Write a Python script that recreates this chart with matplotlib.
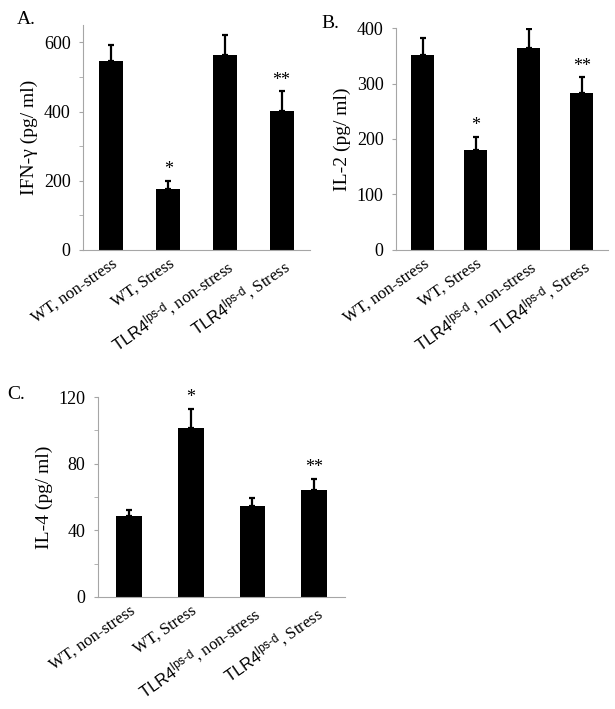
import matplotlib
matplotlib.use('Agg')
import matplotlib.pyplot as plt
import matplotlib.transforms as mtransforms
import numpy as np

plt.rcParams['font.family'] = ['Liberation Serif', 'DejaVu Serif']
plt.rcParams['mathtext.fontset'] = 'custom'
plt.rcParams['mathtext.rm'] = 'Liberation Sans'
plt.rcParams['mathtext.it'] = 'Liberation Sans'
plt.rcParams['mathtext.sf'] = 'Liberation Sans'

# Data
groups = ['WT, non-stress', 'WT, Stress',
          r'$\mathrm{TLR4}^{\mathrm{lps\text{-}d}}$, non-stress',
          r'$\mathrm{TLR4}^{\mathrm{lps\text{-}d}}$, Stress']

ifn_mean = [545, 177, 562, 403]
ifn_err = [46, 23, 58, 55]

il2_mean = [351, 180, 364, 282]
il2_err = [31, 24, 34, 29]

il4_mean = [48.7, 101.6, 54.7, 64.4]
il4_err = [3.6, 11.5, 5.0, 6.6]

signif = ['', '*', '', '**']

fig = plt.figure(figsize=(6.15, 7.09), dpi=100)

AXCOL = '#a6a6a6'


def draw_panel(rect, means, errs, ylabel, ylim, major, minor, letter, letter_xy, width):
    ax = fig.add_axes(rect)
    x = np.arange(len(means))
    ax.bar(x, means, width=width, color='black', zorder=2)
    ax.errorbar(x, means, yerr=[np.zeros(len(errs)), errs], fmt='none',
                ecolor='black', elinewidth=1.6, capsize=2.5, capthick=1.6, zorder=3)
    for xi, m, e, s in zip(x, means, errs, signif):
        if s:
            ax.annotate(s, (xi, m + e), xytext=(0, 8), textcoords='offset points',
                        ha='center', va='center', fontsize=13)
    ax.set_xlim(-0.5, len(means) - 0.5)
    ax.set_ylim(*ylim)
    ax.set_yticks(major)
    ax.set_yticks(minor, minor=True)
    ax.set_xticks(x)
    ax.set_xticklabels(groups, rotation=35, ha='right', va='top',
                       rotation_mode='anchor', fontsize=12)
    offset = mtransforms.ScaledTranslation(0.1, 0.0, fig.dpi_scale_trans)
    for lab in ax.get_xticklabels():
        lab.set_transform(lab.get_transform() + offset)
    ax.tick_params(axis='x', length=0, pad=4)
    ax.tick_params(axis='y', which='both', direction='out', length=3,
                   color=AXCOL, labelsize=13, pad=6)
    for side in ['top', 'right']:
        ax.spines[side].set_visible(False)
    for side in ['left', 'bottom']:
        ax.spines[side].set_color(AXCOL)
        ax.spines[side].set_linewidth(0.8)
    ax.set_ylabel(ylabel, fontsize=14)
    fig.text(letter_xy[0], letter_xy[1], letter, fontsize=14, ha='left', va='center')
    return ax


axA = draw_panel([0.135, 0.6474, 0.369, 0.3173], ifn_mean, ifn_err, 'IFN-γ (pg/ ml)',
                 (0, 650), [0, 200, 400, 600], [100, 300, 500], 'A.', (0.028, 0.972), 0.42)
axB = draw_panel([0.644, 0.6474, 0.345, 0.3131], il2_mean, il2_err, 'IL-2 (pg/ ml)',
                 (0, 400), [0, 100, 200, 300, 400], [], 'B.', (0.523, 0.967), 0.43)
axC = draw_panel([0.1593, 0.158, 0.402, 0.282], il4_mean, il4_err, 'IL-4 (pg/ ml)',
                 (0, 120), [0, 40, 80, 120], [20, 60, 100], 'C.', (0.011, 0.444), 0.42)

fig.savefig('out.png', dpi=100)
